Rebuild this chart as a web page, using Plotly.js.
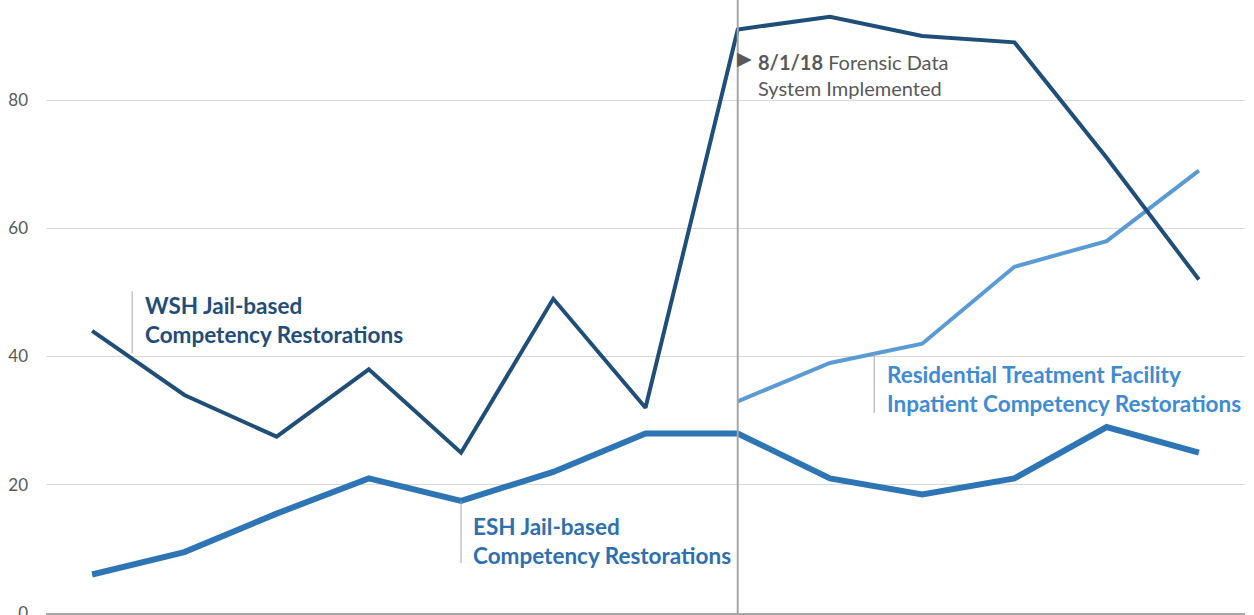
<!DOCTYPE html>
<html>
<head>
<meta charset="utf-8">
<script src="https://cdn.plot.ly/plotly-3.0.1.min.js"></script>
<style>html,body{margin:0;padding:0;background:#fff;}#chart{width:1254px;height:615px;}</style>
</head>
<body>
<div id="chart"></div>
<script>
// Periods (x categories, labels not shown in the original)
const periods = ["P1","P2","P3","P4","P5","P6","P7","P8","P9","P10","P11","P12","P13"];
// WSH Jail-based Competency Restorations
const wshValues = [44, 34, 27.5, 38, 25, 49, 32, 91, 93, 90, 89, 71, 52];
// ESH Jail-based Competency Restorations
const eshValues = [6, 9.5, 15.5, 21, 17.5, 22, 28, 28, 21, 18.5, 21, 29, 25];
// Residential Treatment Facility Inpatient Competency Restorations
const rtfValues = [null, null, null, null, null, null, null, 33, 39, 42, 54, 58, 69];
const yTicks = [0, 20, 40, 60, 80];

const FONT = "Lato, 'Open Sans', sans-serif";

const traces = [
  {x: periods, y: rtfValues, type: "scatter", mode: "lines", line: {color: "#5b9bd5", width: 4}, hoverinfo: "skip"},
  {x: periods, y: eshValues, type: "scatter", mode: "lines", line: {color: "#2e75b6", width: 6}, hoverinfo: "skip"},
  {x: periods, y: wshValues, type: "scatter", mode: "lines", line: {color: "#1f4e79", width: 4}, hoverinfo: "skip"}
];

const layout = {
  width: 1254, height: 615,
  margin: {l: 46, r: 9, t: 0, b: 2},
  paper_bgcolor: "#ffffff", plot_bgcolor: "#ffffff",
  showlegend: false,
  font: {family: FONT, color: "#595959"},
  xaxis: {
    type: "category", categoryorder: "array", categoryarray: periods,
    range: [-0.5, 12.5], showticklabels: false, ticks: "", showgrid: false,
    zeroline: false, showline: true, linecolor: "#a6a6a6", linewidth: 1.5
  },
  yaxis: {
    range: [0, 95.6], tickvals: yTicks, ticktext: yTicks.map(String),
    showgrid: true, gridcolor: "#d9d9d9", gridwidth: 1, zeroline: false, showline: false,
    ticks: "", ticklabelstandoff: 17, ticklabeloverflow: "allow",
    tickfont: {family: FONT, size: 17, color: "#595959"}
  },
  shapes: [
    {type: "line", xref: "x", yref: "paper", x0: 7, x1: 7, y0: -0.01, y1: 1, line: {color: "#a6a6a6", width: 2}},
    {type: "line", xref: "x", yref: "y", x0: 0.434, x1: 0.434, y0: 50.2, y1: 40.5, line: {color: "#a6a6a6", width: 1}},
    {type: "line", xref: "x", yref: "y", x0: 4, x1: 4, y0: 17.5, y1: 7.8, line: {color: "#a6a6a6", width: 1}},
    {type: "line", xref: "x", yref: "y", x0: 8.48, x1: 8.48, y0: 40.5, y1: 31.2, line: {color: "#a6a6a6", width: 1}}
  ],
  annotations: [
    {xref: "x", yref: "y", x: 0.553, y: 45.7, xanchor: "left", yanchor: "middle", align: "left", showarrow: false,
     text: "<b>WSH Jail-based<br>Competency Restorations</b>", font: {family: FONT, size: 22.5, color: "#1f4e79"}},
    {xref: "x", yref: "y", x: 4.108, y: 11.2, xanchor: "left", yanchor: "middle", align: "left", showarrow: false,
     text: "<b>ESH Jail-based<br>Competency Restorations</b>", font: {family: FONT, size: 22.5, color: "#2e6fb0"}},
    {xref: "x", yref: "y", x: 8.6, y: 34.9, xanchor: "left", yanchor: "middle", align: "left", showarrow: false,
     text: "<b>Residential Treatment Facility<br>Inpatient Competency Restorations</b>", font: {family: FONT, size: 22.5, color: "#3f8bd4"}},
    {xref: "x", yref: "y", x: 7.2, y: 83.9, xanchor: "left", yanchor: "middle", align: "left", showarrow: false,
     text: "<b>8/1/18</b> Forensic Data<br>System Implemented", font: {family: FONT, size: 20, color: "#595959"}},
    {xref: "x", yref: "y", x: 7, y: 86.6, xanchor: "left", yanchor: "middle", showarrow: false, xshift: -3,
     text: "▶", font: {family: "DejaVu Sans", size: 19, color: "#595959"}}
  ]
};

Plotly.newPlot("chart", traces, layout, {displayModeBar: false, staticPlot: true});
</script>
</body>
</html>
